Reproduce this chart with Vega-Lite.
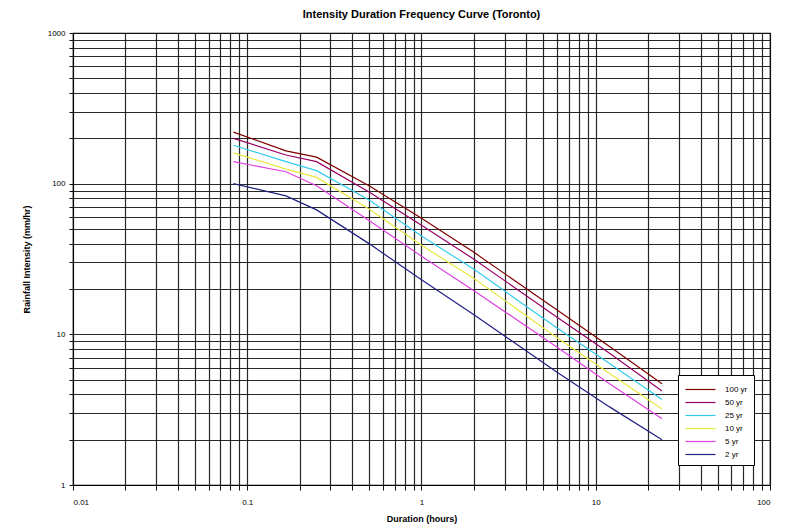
{
  "$schema": "https://vega.github.io/schema/vega-lite/v6.json",
  "autosize": {"type": "none"},
  "padding": {"left": 73, "top": 33, "right": 18, "bottom": 47},
  "width": 697,
  "height": 452,
  "background": "white",
  "title": {"text": "Intensity Duration Frequency Curve (Toronto)", "font": "Liberation Sans", "fontSize": 11, "fontWeight": "bold", "color": "black", "anchor": "middle", "offset": 9},
  "config": {
    "view": {"stroke": "black", "strokeWidth": 1.2},
    "axis": {"labelFont": "Liberation Sans", "titleFont": "Liberation Sans", "labelColor": "black", "titleColor": "black", "labelFontSize": 8, "titleFontSize": 9, "titleFontWeight": "bold", "gridColor": "#111", "gridOpacity": 0.9, "gridWidth": 1.2, "tickColor": "#111", "domainColor": "black"}
  },
  "data": {"values": [
    {"d": 0.0833, "i": 220, "rp": "100 yr"}, {"d": 0.1667, "i": 165, "rp": "100 yr"}, {"d": 0.25, "i": 150, "rp": "100 yr"}, {"d": 0.5, "i": 97, "rp": "100 yr"}, {"d": 1, "i": 59, "rp": "100 yr"}, {"d": 2, "i": 35, "rp": "100 yr"}, {"d": 6, "i": 14.5, "rp": "100 yr"}, {"d": 12, "i": 8.3, "rp": "100 yr"}, {"d": 24, "i": 4.7, "rp": "100 yr"},
    {"d": 0.0833, "i": 200, "rp": "50 yr"}, {"d": 0.1667, "i": 155, "rp": "50 yr"}, {"d": 0.25, "i": 140, "rp": "50 yr"}, {"d": 0.5, "i": 88, "rp": "50 yr"}, {"d": 1, "i": 53, "rp": "50 yr"}, {"d": 2, "i": 31.5, "rp": "50 yr"}, {"d": 6, "i": 13, "rp": "50 yr"}, {"d": 12, "i": 7.5, "rp": "50 yr"}, {"d": 24, "i": 4.2, "rp": "50 yr"},
    {"d": 0.0833, "i": 180, "rp": "25 yr"}, {"d": 0.1667, "i": 140, "rp": "25 yr"}, {"d": 0.25, "i": 122, "rp": "25 yr"}, {"d": 0.5, "i": 78, "rp": "25 yr"}, {"d": 1, "i": 45, "rp": "25 yr"}, {"d": 2, "i": 27, "rp": "25 yr"}, {"d": 6, "i": 11, "rp": "25 yr"}, {"d": 12, "i": 6.4, "rp": "25 yr"}, {"d": 24, "i": 3.7, "rp": "25 yr"},
    {"d": 0.0833, "i": 160, "rp": "10 yr"}, {"d": 0.1667, "i": 125, "rp": "10 yr"}, {"d": 0.25, "i": 110, "rp": "10 yr"}, {"d": 0.5, "i": 68, "rp": "10 yr"}, {"d": 1, "i": 39, "rp": "10 yr"}, {"d": 2, "i": 23.5, "rp": "10 yr"}, {"d": 6, "i": 9.5, "rp": "10 yr"}, {"d": 12, "i": 5.5, "rp": "10 yr"}, {"d": 24, "i": 3.2, "rp": "10 yr"},
    {"d": 0.0833, "i": 140, "rp": "5 yr"}, {"d": 0.1667, "i": 120, "rp": "5 yr"}, {"d": 0.25, "i": 97, "rp": "5 yr"}, {"d": 0.5, "i": 57, "rp": "5 yr"}, {"d": 1, "i": 33, "rp": "5 yr"}, {"d": 2, "i": 19.5, "rp": "5 yr"}, {"d": 6, "i": 8.2, "rp": "5 yr"}, {"d": 12, "i": 4.7, "rp": "5 yr"}, {"d": 24, "i": 2.75, "rp": "5 yr"},
    {"d": 0.0833, "i": 100, "rp": "2 yr"}, {"d": 0.1667, "i": 83, "rp": "2 yr"}, {"d": 0.25, "i": 67, "rp": "2 yr"}, {"d": 0.5, "i": 40, "rp": "2 yr"}, {"d": 1, "i": 23, "rp": "2 yr"}, {"d": 2, "i": 13.5, "rp": "2 yr"}, {"d": 6, "i": 5.6, "rp": "2 yr"}, {"d": 12, "i": 3.3, "rp": "2 yr"}, {"d": 24, "i": 2.0, "rp": "2 yr"}
  ]},
  "mark": {"type": "line", "strokeWidth": 1.2, "clip": true},
  "encoding": {
    "x": {"field": "d", "type": "quantitative", "scale": {"type": "log", "domain": [0.01, 100], "nice": false},
      "axis": {"title": "Duration (hours)", "titlePadding": 8, "format": "~g", "tickSize": 5, "labelPadding": 8,
        "values": [0.01,0.02,0.03,0.04,0.05,0.06,0.07,0.08,0.09,0.1,0.2,0.3,0.4,0.5,0.6,0.7,0.8,0.9,1,2,3,4,5,6,7,8,9,10,20,30,40,50,60,70,80,90,100],
        "labelExpr": "indexof(['0.01','0.1','1','10','100'], datum.label) >= 0 ? datum.label : ''"}},
    "y": {"field": "i", "type": "quantitative", "scale": {"type": "log", "domain": [1, 1000], "nice": false},
      "axis": {"title": "Rainfall Intensity (mm/hr)", "titlePadding": 16, "format": "~g", "tickSize": 4, "labelPadding": 4,
        "values": [1,2,3,4,5,6,7,8,9,10,20,30,40,50,60,70,80,90,100,200,300,400,500,600,700,800,900,1000],
        "labelExpr": "indexof(['1','10','100','1000'], datum.label) >= 0 ? datum.label : ''"}},
    "color": {"field": "rp", "type": "nominal",
      "scale": {"domain": ["100 yr", "50 yr", "25 yr", "10 yr", "5 yr", "2 yr"], "range": ["#800000", "#990066", "#33CCEE", "#E8E840", "#E040E0", "#202080"]},
      "legend": {"title": null, "orient": "none", "legendX": 605, "legendY": 342, "fillColor": "white", "strokeColor": "black", "padding": 6,
        "symbolType": "M-2,0H2", "symbolSize": 225, "symbolStrokeWidth": 1.2, "symbolOffset": 8, "labelFont": "Liberation Sans", "labelFontSize": 8, "labelColor": "black", "rowPadding": -4.5, "labelOffset": 16, "labelLimit": 40}}
  }
}
